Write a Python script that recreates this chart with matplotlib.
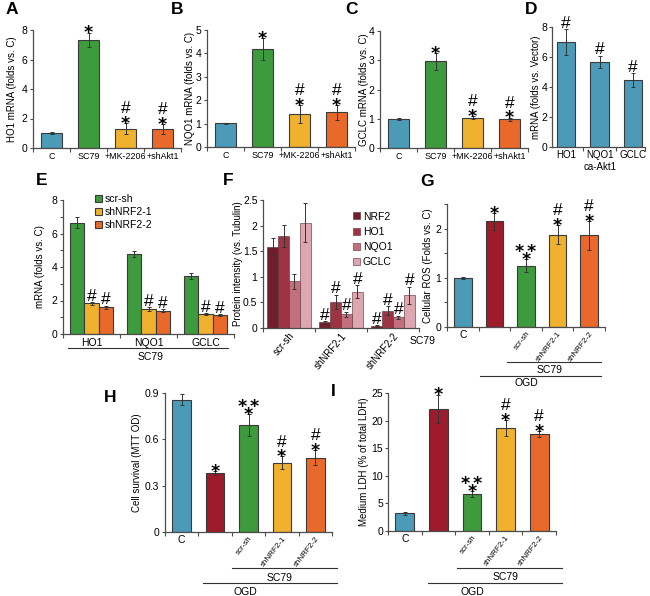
import matplotlib
matplotlib.use('Agg')
import matplotlib.pyplot as plt
from matplotlib import font_manager
import numpy as np

# ---------------- data ----------------
akt_groups = ['C', 'SC79', '+MK-2206', '+shAkt1']
ho1_mrna = [1.02, 7.32, 1.31, 1.31]
ho1_err = [0.07, 0.5, 0.38, 0.33]
nqo1_mrna = [1.01, 4.18, 1.41, 1.48]
nqo1_err = [0.02, 0.46, 0.38, 0.31]
gclc_mrna = [1.0, 2.96, 1.04, 0.99]
gclc_err = [0.03, 0.29, 0.05, 0.05]
akt_marks = [[], ['*'], ['*', '#'], ['*', '#']]

genes = ['HO1', 'NQO1', 'GCLC']
ca_akt1 = [7.0, 5.67, 4.44]
ca_akt1_err = [0.85, 0.42, 0.47]

nrf2_groups = ['scr-sh', 'shNRF2-1', 'shNRF2-2']
e_scr = [6.65, 4.78, 3.46]
e_scr_err = [0.35, 0.2, 0.16]
e_sh1 = [1.83, 1.47, 1.19]
e_sh1_err = [0.08, 0.12, 0.07]
e_sh2 = [1.59, 1.39, 1.13]
e_sh2_err = [0.1, 0.08, 0.04]

proteins = ['NRF2', 'HO1', 'NQO1', 'GCLC']
f_scr = [1.59, 1.8, 0.91, 2.06]
f_scr_err = [0.16, 0.22, 0.14, 0.38]
f_sh1 = [0.11, 0.51, 0.27, 0.71]
f_sh1_err = [0.03, 0.14, 0.05, 0.13]
f_sh2 = [0.045, 0.34, 0.21, 0.64]
f_sh2_err = [0.01, 0.09, 0.03, 0.17]

ogd_groups = ['C', '', 'scr-sh', 'shNRF2-1', 'shNRF2-2']
ros = [1.0, 2.15, 1.25, 1.88, 1.86]
ros_err = [0.02, 0.17, 0.13, 0.2, 0.3]
survival = [0.857, 0.384, 0.694, 0.449, 0.482]
survival_err = [0.036, 0.012, 0.07, 0.04, 0.048]
ldh = [3.2, 22.1, 6.67, 18.7, 17.6]
ldh_err = [0.25, 2.6, 0.6, 1.4, 0.5]
ogd_marks = [[], ['*'], ['*', '**'], ['*', '#'], ['*', '#']]

# ---------------- style ----------------
BLUE, GREEN, YELLOW, ORANGE, RED = '#4b9bb8', '#3d9a3d', '#f0b12e', '#e8692a', '#9d1b2a'
PROT_COLORS = ['#6e1f2b', '#9c3444', '#c2707d', '#dca7b0']
EDGE = '#3a3a3a'
AX = '#4d4d4d'

names = {f.name for f in font_manager.fontManager.ttflist}
NARROW = 'Liberation Sans Narrow' if 'Liberation Sans Narrow' in names else 'Liberation Sans'
plt.rcParams['font.family'] = [NARROW, 'Liberation Sans', 'DejaVu Sans']
# '#' in plain Arial-like face, '*' in a heavy face
plt.rcParams['mathtext.fontset'] = 'custom'
plt.rcParams['mathtext.rm'] = 'Liberation Sans'
plt.rcParams['mathtext.bf'] = 'DejaVu Sans:bold'

W, H = 650, 596
fig = plt.figure(figsize=(W / 100, H / 100), dpi=100)


def axes_px(l, t, r, b):
    return fig.add_axes([l / W, 1 - b / H, (r - l) / W, (b - t) / H])


def style(ax, xlim, ylim, yticks, ylabs, bounds):
    for s in ('top', 'right'):
        ax.spines[s].set_visible(False)
    for s in ('left', 'bottom'):
        ax.spines[s].set_color(AX)
        ax.spines[s].set_linewidth(0.9)
    ax.set_xlim(xlim)
    ax.set_ylim(ylim)
    ax.set_yticks(yticks)
    ax.set_yticklabels(ylabs)
    ax.set_xticks(bounds, minor=True)
    ax.tick_params(axis='y', labelsize=7.5, length=2.5, width=0.8, pad=1.5, color=AX)
    ax.tick_params(axis='x', which='major', length=0, labelsize=7.5, pad=3)
    ax.tick_params(axis='x', which='minor', length=3, width=0.8, color=AX)


def ylabel(ax, text, xpx):
    ax.set_ylabel(text, fontsize=7, family='Liberation Sans')
    ax.yaxis.label.set_verticalalignment('center')
    pos = ax.get_position()
    ax.yaxis.set_label_coords(xpx / W, pos.y0 + pos.height / 2, transform=fig.transFigure)


def marks(ax, x, ytop, syms, fs=12.5):
    # one text per bar: symbols stacked bottom -> top
    lines = [r'$\mathbf{%s}$' % s if '*' in s else r'$\mathrm{\#}$' for s in syms[::-1]]
    if syms[0] == '*':
        off = 2.2 - 0.57 * fs
    else:
        off = 1.4 - 0.21 * fs
    ls = 0.375 if (len(syms) > 1 and syms[1] == '**') else 0.9
    ax.annotate('\n'.join(lines), (x, ytop), xytext=(0, off), textcoords='offset points',
                ha='center', va='bottom', fontsize=fs, linespacing=ls,
                multialignment='center', annotation_clip=False)


def bars(ax, x, vals, errs, colors, width):
    ax.bar(x, vals, width, color=colors, edgecolor=EDGE, linewidth=0.8,
           yerr=errs, error_kw=dict(ecolor='#333333', elinewidth=0.7, capsize=1.6, capthick=0.7))


def bracket(ax, x0, x1, yf, text, tx, tyf):
    tr = ax.get_xaxis_transform()
    ax.plot([x0, x1], [yf, yf], color='#333333', lw=0.8, transform=tr, clip_on=False)
    ax.text(tx, tyf, text, transform=tr, ha='center', va='center', fontsize=7.5)


def letter(xpx, ypx, s):
    fig.text(xpx / W, 1 - ypx / H, s, ha='center', va='center', fontsize=12.5,
             fontweight='bold', family='Liberation Sans')


# ---------------- A, B, C ----------------
panels = [((33, 30, 181, 148), ho1_mrna, ho1_err, 8, 2, 'HO1 mRNA (folds vs. C)', 12),
          ((207, 30, 355, 147), nqo1_mrna, nqo1_err, 5, 1, 'NQO1 mRNA (folds vs. C)', 190),
          ((380, 31, 528, 148), gclc_mrna, gclc_err, 4, 1, 'GCLC mRNA (folds vs. C)', 364)]
x4 = np.arange(len(akt_groups))
for box, vals, errs, top, step, lab, lx in panels:
    ax = axes_px(*box)
    yt = np.arange(0, top + step / 2, step)
    style(ax, (-0.5, 3.5), (0, top), yt, [f'{v:g}' for v in yt], np.arange(-0.5, 3.6, 1))
    bars(ax, x4, vals, errs, [BLUE, GREEN, YELLOW, ORANGE], 0.57)
    ax.set_xticks(x4)
    ax.set_xticklabels(akt_groups, fontsize=6.4)
    ylabel(ax, lab, lx)
    for i in x4:
        if akt_marks[i]:
            marks(ax, i, vals[i] + errs[i], akt_marks[i])

# ---------------- D ----------------
ax = axes_px(552, 27, 645, 147)
x3 = np.arange(len(genes))
style(ax, (-0.42, 2.35), (0, 8), [0, 2, 4, 6, 8], ['0', '2', '4', '6', '8'], [0.5, 1.5, 2.35])
ax.tick_params(axis='y', pad=1)
ax.tick_params(axis='x', which='major', pad=2)
bars(ax, x3, ca_akt1, ca_akt1_err, BLUE, 0.55)
ax.set_xticks(x3)
ax.set_xticklabels(genes, fontsize=7)
ylabel(ax, 'mRNA (folds vs. Vector)', 536)
for i in x3:
    marks(ax, i, ca_akt1[i] + ca_akt1_err[i], ['#'])
ax.text(1, -0.17, 'ca-Akt1', transform=ax.get_xaxis_transform(), ha='center', va='center',
        fontsize=7)

# ---------------- E ----------------
ax = axes_px(63, 200, 234, 334)
style(ax, (-0.5, 2.5), (0, 8), [0, 2, 4, 6, 8], ['0', '2', '4', '6', '8'], [-0.5, 0.5, 1.5, 2.5])
ax.set_yticks([1, 3, 5, 7], minor=True)
ax.tick_params(axis='y', which='minor', length=2, width=0.8, color=AX)
w = 0.25
for k, (vals, errs, col, name) in enumerate([(e_scr, e_scr_err, GREEN, 'scr-sh'),
                                              (e_sh1, e_sh1_err, YELLOW, 'shNRF2-1'),
                                              (e_sh2, e_sh2_err, ORANGE, 'shNRF2-2')]):
    xs = x3 + (k - 1) * w
    ax.bar(xs, vals, w, color=col, edgecolor=EDGE, linewidth=0.8, label=name,
           yerr=errs, error_kw=dict(ecolor='#333333', elinewidth=0.7, capsize=1.6, capthick=0.7))
    if k > 0:
        for i in x3:
            marks(ax, xs[i], vals[i] + errs[i], ['#'])
ax.set_xticks(x3)
ax.set_xticklabels(genes)
ylabel(ax, 'mRNA (folds vs. C)', 40)
ax.legend(loc='upper left', bbox_to_anchor=(0.19, 1.045), frameon=False, fontsize=7.5,
          handlelength=0.65, handleheight=0.65, handletextpad=0.25, labelspacing=0.3,
          borderpad=0, borderaxespad=0)
bracket(ax, -0.41, 2.39, -0.104, 'SC79', 1.03, -0.172)

# ---------------- F ----------------
ax = axes_px(263, 200, 419, 328)
style(ax, (-0.5, 2.5), (0, 2.5), [0, 0.5, 1, 1.5, 2, 2.5],
      ['0', '0.5', '1', '1.5', '2', '2.5'], [-0.5, 0.5, 1.5, 2.5])
w = 0.21
groups_f = [(f_scr, f_scr_err), (f_sh1, f_sh1_err), (f_sh2, f_sh2_err)]
for g, (vals, errs) in enumerate(groups_f):
    for k in range(len(proteins)):
        xk = g + (k - 1.5) * w
        ax.bar(xk, vals[k], w, color=PROT_COLORS[k], edgecolor='#5a2a30', linewidth=0.4,
               label=proteins[k] if g == 0 else None, yerr=errs[k],
               error_kw=dict(ecolor='#333333', elinewidth=0.7, capsize=1.6, capthick=0.7))
        if g > 0:
            marks(ax, xk, vals[k] + errs[k], ['#'])
ax.set_xticks(x3)
ax.set_xticklabels(nrf2_groups, rotation=50, ha='right', rotation_mode='anchor', fontsize=7)
ax.tick_params(axis='x', which='major', pad=2)
ylabel(ax, 'Protein intensity (vs. Tubulin)', 238)
ax.legend(loc='upper left', bbox_to_anchor=(0.58, 0.91), frameon=False, fontsize=7.5,
          handlelength=0.65, handleheight=0.65, handletextpad=0.25, labelspacing=0.5,
          borderpad=0, borderaxespad=0)
ax.text(2.56, -0.1, 'SC79', transform=ax.get_xaxis_transform(), ha='center', va='center',
        fontsize=7.5)

# ---------------- G, H, I ----------------
x5 = np.arange(len(ogd_groups))
ogd_colors = [BLUE, RED, GREEN, YELLOW, ORANGE]
ogd_panels = [((447, 204, 605, 327), ros, ros_err, (0, 2.5), [0, 1, 2], ['0', '1', '2'],
               'Cellular ROS (Folds vs. C)', 428,
               [(1.39, 4.36, -0.285, 'SC79', 2.75, -0.35), (0.54, 4.36, -0.398, 'OGD', 2.0, -0.455)]),
              ((165, 393, 332, 532), survival, survival_err, (0, 0.9), [0, 0.3, 0.6, 0.9],
               ['0', '0.3', '0.6', '0.9'], 'Cell survival (MTT OD)', 137,
               [(1.5, 4.65, -0.259, 'SC79', 2.94, -0.331), (0.64, 4.65, -0.367, 'OGD', 1.9, -0.432)]),
              ((388, 393, 556, 531), ldh, ldh_err, (0, 25), [0, 5, 10, 15, 20, 25],
               ['0', '5', '10', '15', '20', '25'], 'Medium LDH (% of total LDH)', 364,
               [(1.56, 4.69, -0.268, 'SC79', 3.0, -0.333), (0.69, 4.69, -0.377, 'OGD', 2.0, -0.442)])]
for box, vals, errs, ylim, yt, ytl, lab, lx, brs in ogd_panels:
    ax = axes_px(*box)
    style(ax, (-0.5, 4.5), ylim, yt, ytl, np.arange(-0.5, 4.6, 1))
    if ylim[1] == 2.5:
        ax.set_yticks(np.arange(0, 2.6, 0.5), minor=True)
        ax.tick_params(axis='y', which='minor', length=2.5, width=0.8, color=AX)
    if ylim[1] == 25:
        ax.tick_params(axis='y', pad=1)
    bars(ax, x5, vals, errs, ogd_colors, 0.56)
    ax.set_xticks(x5)
    ax.set_xticklabels(ogd_groups)
    ax.tick_params(axis='x', which='major', pad=2)
    for lbl in ax.get_xticklabels()[2:]:
        lbl.set_rotation(52)
        lbl.set_ha('right')
        lbl.set_rotation_mode('anchor')
        lbl.set_fontsize(5.8)
    ylabel(ax, lab, lx)
    for i in x5:
        if ogd_marks[i]:
            marks(ax, i, vals[i] + errs[i], ogd_marks[i])
    for b in brs:
        bracket(ax, *b)

# ---------------- panel letters ----------------
for xp, yp, s in [(12, 9, 'A'), (177, 9, 'B'), (351, 9, 'C'), (531, 9, 'D'),
                  (42, 181, 'E'), (228, 181, 'F'), (427, 182, 'G'),
                  (110, 397, 'H'), (333, 391, 'I')]:
    letter(xp, yp, s)

fig.savefig('out.png', dpi=100)
